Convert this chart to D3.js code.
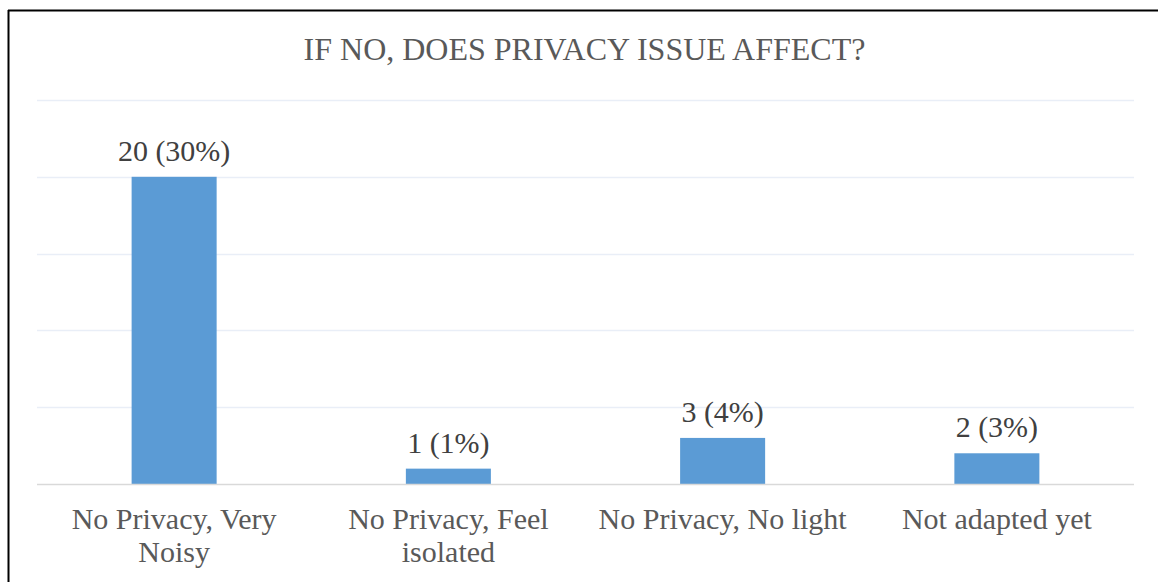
<!DOCTYPE html>
<html><head><meta charset="utf-8">
<script src="https://cdn.jsdelivr.net/npm/d3@7"></script>
</head>
<body style="margin:0;background:#fff">
<svg id="chart" width="1158" height="582" style="display:block"></svg>
<script>
const title = "IF NO, DOES PRIVACY ISSUE AFFECT?";
const categories = ["No Privacy, Very Noisy", "No Privacy, Feel isolated", "No Privacy, No light", "Not adapted yet"];
const values = [20, 1, 3, 2];
const labels = ["20 (30%)", "1 (1%)", "3 (4%)", "2 (3%)"];
const yTicks = [0, 5, 10, 15, 20, 25];

const FONT = "Liberation Serif";
const svg = d3.select("#chart");
const W = 1158, H = 582;
const m = {left: 37, right: 24, top: 100, bottom: 98};

// frame (cropped at right/bottom)
svg.append("line").attr("x1", 8).attr("x2", W).attr("y1", 10.5).attr("y2", 10.5)
  .attr("stroke", "#000").attr("stroke-width", 2);
svg.append("line").attr("x1", 8.5).attr("x2", 8.5).attr("y1", 10).attr("y2", H)
  .attr("stroke", "#000").attr("stroke-width", 2);

const x = d3.scaleBand().domain(categories).range([m.left, W - m.right]).paddingInner(0.69).paddingOuter(0.345);
const y = d3.scaleLinear().domain([0, 25]).range([H - m.bottom, m.top]);

// gridlines
svg.append("g").selectAll("line").data(yTicks.filter(d => d > 0)).join("line")
  .attr("x1", m.left).attr("x2", W - m.right)
  .attr("y1", d => Math.round(y(d)) + 0.5).attr("y2", d => Math.round(y(d)) + 0.5)
  .attr("stroke", "#e9eef7").attr("stroke-width", 1.5);

// bars
svg.append("g").selectAll("rect").data(values).join("rect")
  .attr("x", (d, i) => x(categories[i]))
  .attr("width", x.bandwidth())
  .attr("y", d => y(d))
  .attr("height", d => y(0) - y(d))
  .attr("fill", "#5b9bd5");

// baseline
svg.append("line").attr("x1", m.left).attr("x2", W - m.right)
  .attr("y1", y(0) + 0.5).attr("y2", y(0) + 0.5)
  .attr("stroke", "#d9d9d9").attr("stroke-width", 1.5);

// data labels
svg.append("g").selectAll("text").data(values).join("text")
  .attr("x", (d, i) => x(categories[i]) + x.bandwidth() / 2)
  .attr("y", d => y(d) - 16)
  .attr("text-anchor", "middle")
  .attr("font-family", FONT)
  .attr("font-size", 30)
  .attr("fill", "#404040")
  .text((d, i) => labels[i]);

// category labels with wrapping
const gx = svg.append("g");
gx.selectAll("text").data(categories).join("text")
  .attr("text-anchor", "middle")
  .attr("transform", d => `translate(${x(d) + x.bandwidth() / 2},${y(0)})`)
  .attr("font-size", 30)
  .attr("font-family", FONT)
  .attr("fill", "#595959")
  .each(function(d) {
    const t = d3.select(this);
    const words = d.split(" ");
    let line = [];
    let tspan = t.append("tspan").attr("x", 0).attr("y", 45);
    let ln = 0;
    const maxW = 262;
    words.forEach(w => {
      line.push(w);
      tspan.text(line.join(" "));
      if (tspan.node().getComputedTextLength() > maxW && line.length > 1) {
        line.pop();
        tspan.text(line.join(" "));
        line = [w];
        ln++;
        tspan = t.append("tspan").attr("x", 0).attr("y", 45 + ln * 33).text(w);
      }
    });
  });

// title
svg.append("text").attr("x", 584.5).attr("y", 60)
  .attr("text-anchor", "middle")
  .attr("font-family", FONT).attr("font-size", 32)
  .attr("fill", "#595959").text(title);
</script>
</body></html>
